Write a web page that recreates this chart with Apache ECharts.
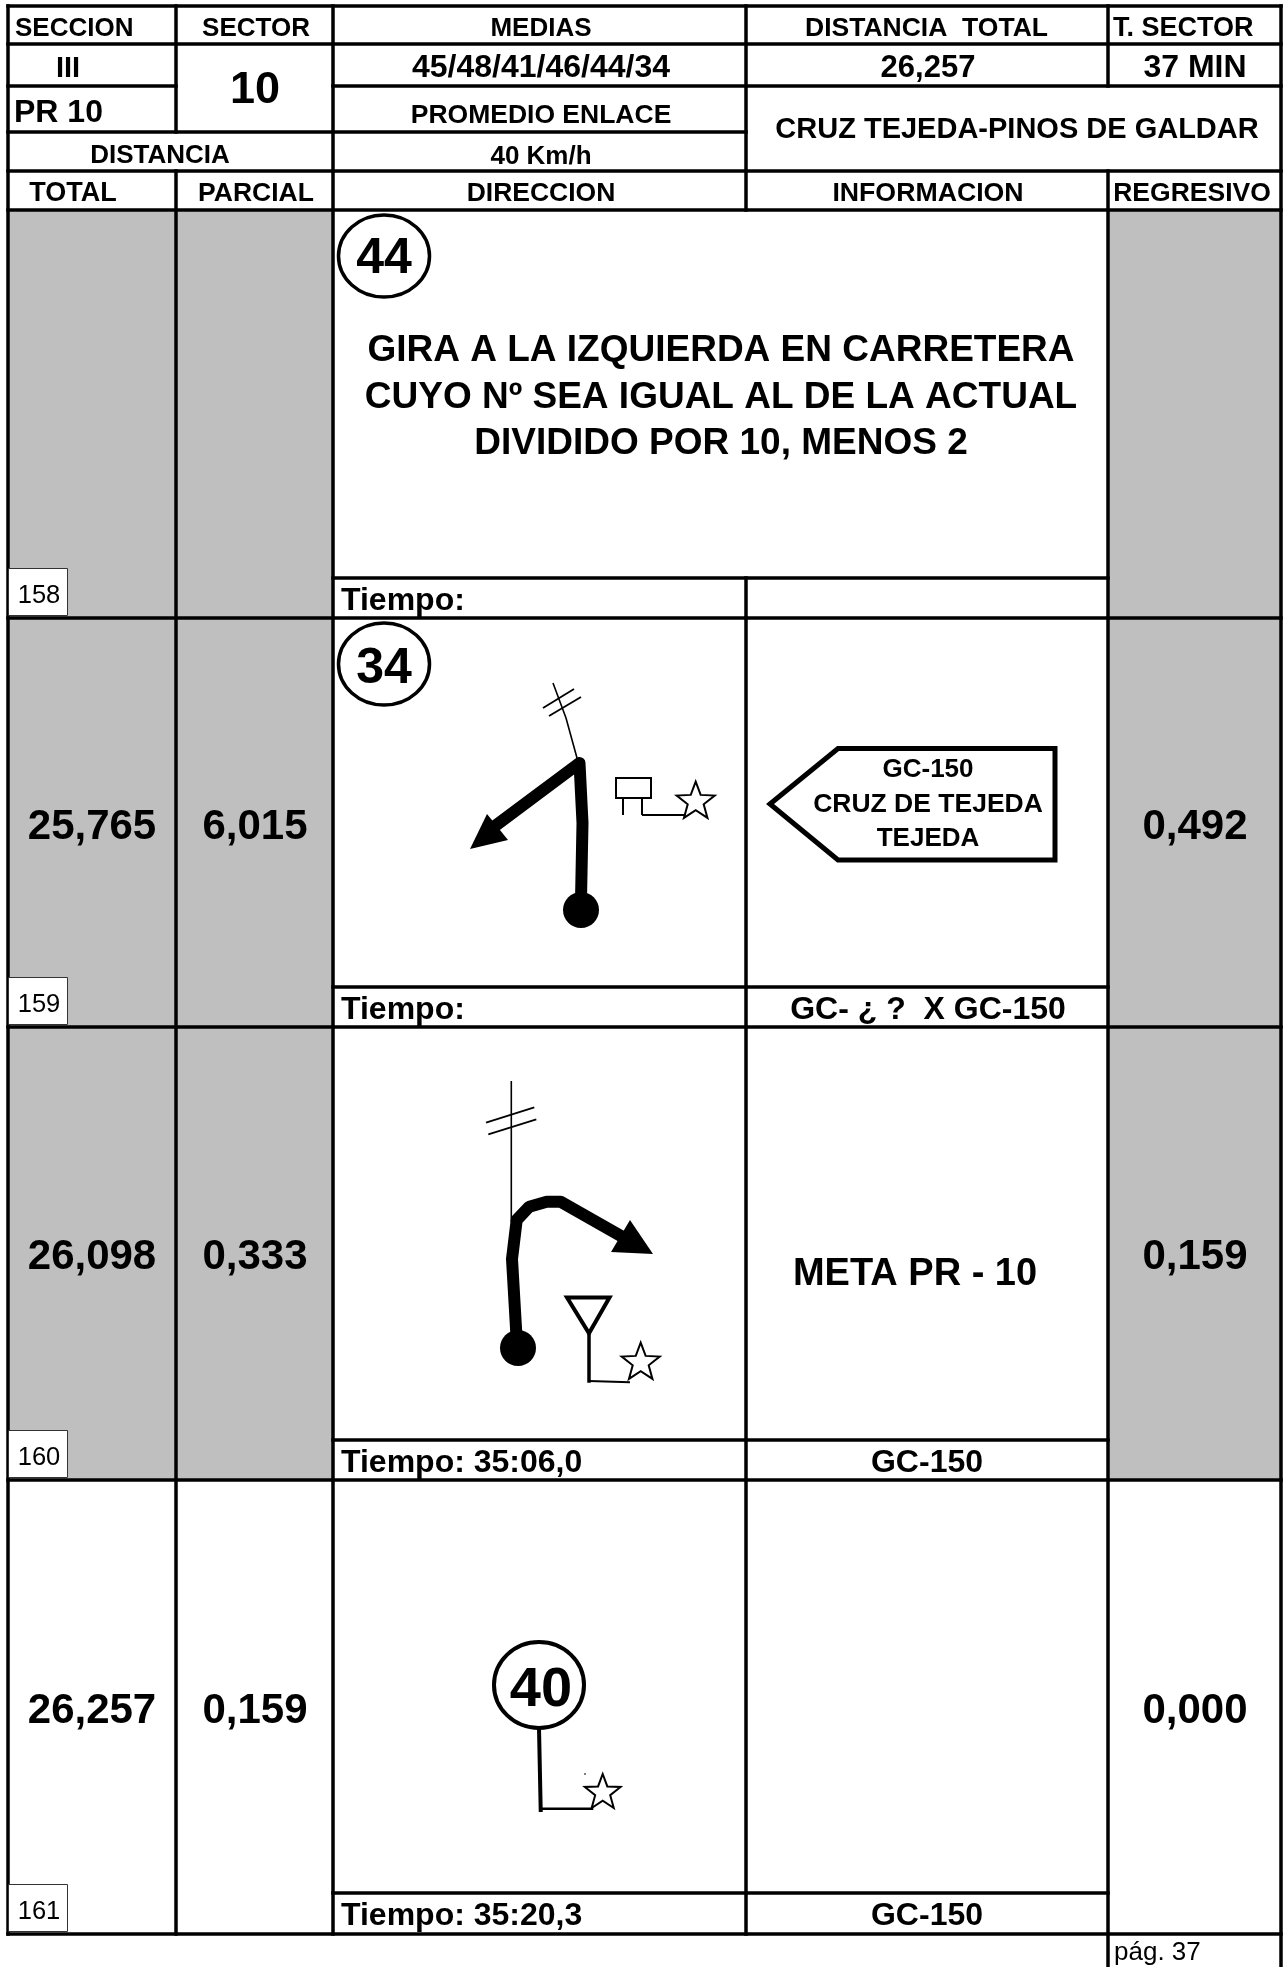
<!DOCTYPE html>
<html><head><meta charset="utf-8">
<style>html,body{margin:0;padding:0;background:#fff}#c{width:1283px;height:1967px}</style>
<script src="https://cdn.jsdelivr.net/npm/echarts@6/dist/echarts.min.js"></script>
</head><body><div id="c"></div>
<script>
// ---- content ----
const waypoints = [158, 159, 160, 161];
const totals = [null, 25.765, 26.098, 26.257];
const partials = [null, 6.015, 0.333, 0.159];
const regressive = [null, 0.492, 0.159, 0.000];
const times = ['Tiempo:', 'Tiempo:', 'Tiempo: 35:06,0', 'Tiempo: 35:20,3'];
const roads = ['', 'GC- ¿ ?  X GC-150', 'GC-150', 'GC-150'];
const instruction = ['GIRA A LA IZQUIERDA EN CARRETERA', 'CUYO Nº SEA IGUAL AL DE LA ACTUAL', 'DIVIDIDO POR 10, MENOS 2'];
const signLines = ['GC-150', 'CRUZ DE TEJEDA', 'TEJEDA'];
const columnTitles = ['TOTAL', 'PARCIAL', 'DIRECCION', 'INFORMACION', 'REGRESIVO'];
const speedBadges = [44, 34, 40];
const finishLabel = 'META PR - 10';
const pageLabel = 'pág. 37';

// ---- layout, in axis units ----
const X = [8, 176, 333, 746, 1108, 1281];
const H = [6, 44, 86, 132, 171, 210];
const R = [210, 618, 1027, 1480, 1934];
const T = [578, 987, 1440, 1893];
const BLACK = '#000', GREY = '#bfbfbf';
const F = 'Liberation Sans, Arial, sans-serif';
const fmt = v => v == null ? '' : v.toFixed(3).replace('.', ',');

const items = [];
const rect = (a, b, c, d, fill) => items.push({k: 'rect', a, b, c, d, fill});
const line = (pts, w) => items.push({k: 'line', pts, w});
const poly = (pts, fill, w) => items.push({k: 'poly', pts, fill, w});
const ell = (x, y, rx, ry, fill, w) => items.push({k: 'ell', x, y, rx, ry, fill, w});
const txt = (s, x, y, size, align, weight) => items.push({k: 'txt', s, x, y: y + 2.5, size, align: align || 'center', weight: weight || 'bold'});
const star = (cx, cy, r) => {
  const p = [];
  for (let i = 0; i < 10; i++) {
    const a = -Math.PI / 2 + i * Math.PI / 5, q = i % 2 ? r * 0.42 : r;
    p.push([cx + q * Math.cos(a), cy + q * Math.sin(a)]);
  }
  poly(p, '#fff', 2);
};

// grey cells
for (let i = 0; i < 3; i++) {
  rect(X[0], R[i], X[2], R[i + 1], GREY);
  rect(X[4], R[i], X[5], R[i + 1], GREY);
}
// rules
const LW = 3.5;
[[X[0], X[5], H[0]], [X[0], X[5], H[1]], [X[0], X[1], H[2]], [X[2], X[5], H[2]], [X[0], X[3], H[3]],
 [X[0], X[5], H[4]], [X[0], X[5], H[5]], [X[0], X[5], R[1]], [X[0], X[5], R[2]], [X[0], X[5], R[3]], [X[0], X[5], R[4]]]
  .forEach(r => line([[r[0], r[2]], [r[1], r[2]]], LW));
T.forEach(y => line([[X[2], y], [X[4], y]], LW));
line([[X[0], H[0]], [X[0], R[4]]], LW);
line([[X[5], H[0]], [X[5], 1967]], LW);
line([[X[1], H[0]], [X[1], H[3]]], LW);
line([[X[1], H[4]], [X[1], R[4]]], LW);
line([[X[2], H[0]], [X[2], R[4]]], LW);
line([[X[3], H[0]], [X[3], H[5]]], LW);
line([[X[3], T[0]], [X[3], R[1]]], LW);
line([[X[3], R[1]], [X[3], R[4]]], LW);
line([[X[4], H[0]], [X[4], H[2]]], LW);
line([[X[4], H[4]], [X[4], 1967]], LW);

// header text
txt('SECCION', 15, 26, 26, 'left');
txt('SECTOR', 256, 26, 26);
txt('MEDIAS', 541, 26, 26);
txt('DISTANCIA  TOTAL', 926.5, 26, 26.5);
txt('T. SECTOR', 1113, 26, 27, 'left');
txt('III', 68, 66, 29);
txt('10', 255, 88, 45);
txt('45/48/41/46/44/34', 541, 66, 32);
txt('26,257', 928, 66, 31);
txt('37 MIN', 1195, 66, 32);
txt('PR 10', 14, 111, 32, 'left');
txt('PROMEDIO ENLACE', 541, 113, 26.5);
txt('CRUZ TEJEDA-PINOS DE GALDAR', 1017, 127, 29);
txt('DISTANCIA', 160, 153, 26);
txt('40 Km/h', 541, 154, 26);
const colX = [73, 256, 541, 928, 1192];
const colSize = [27, 26.5, 26.5, 26.7, 26.5];
columnTitles.forEach((t, i) => txt(t, colX[i], 191, colSize[i]));

// rows
waypoints.forEach((n, i) => {
  rect(X[0] + 1, R[i + 1] - 49, 68, R[i + 1] - 2, '#fff');
  items.push({k: 'box', a: X[0] + 1, b: R[i + 1] - 49, c: 68, d: R[i + 1] - 2});
  txt(String(n), 39, R[i + 1] - 25, 25.5, 'center', 'normal');
  if (totals[i] != null) {
    const yy = i === 1 ? 824.5 : i === 2 ? 1254.5 : 1708.5;
    txt(fmt(totals[i]), 92, yy, 42);
    txt(fmt(partials[i]), 255, yy, 42);
    txt(fmt(regressive[i]), 1195, yy, 42);
  }
  txt(times[i], 341, (T[i] + R[i + 1]) / 2 + 0.5, 32, 'left');
  if (roads[i]) txt(roads[i], i === 1 ? 928 : 927, (T[i] + R[i + 1]) / 2 + 0.5, 32);
});
instruction.forEach((s, i) => txt(s, 721, [348, 395, 441][i], 37));

// speed badges
ell(384, 256, 45.5, 41, 'none', 3.5); txt(String(speedBadges[0]), 384, 256.5, 50);
ell(384, 664, 45.5, 41, 'none', 3.5); txt(String(speedBadges[1]), 384, 666.5, 50);

// diagram 159
line([[553, 683], [566, 718], [577, 758]], 1.6);
line([[543, 708], [574, 689]], 1.8);
line([[549, 716], [581, 697]], 1.8);
line([[581, 900], [582.5, 823], [579.5, 763], [495, 826]], 12);
poly([[470, 849], [487, 814], [508, 840]], BLACK, 0);
ell(581, 910, 18, 18, BLACK, 0);
poly([[616, 778], [651, 778], [651, 798], [616, 798]], '#fff', 2);
line([[623, 798], [623, 815]], 2);
line([[642, 798], [642, 815]], 2);
line([[642, 815], [685, 815]], 2);
star(695.7, 801.7, 20);

// sign
poly([[770, 804], [838, 748.5], [1055, 748.5], [1055, 860], [838, 860]], '#fff', 5);
signLines.forEach((s, i) => txt(s, 928, [767.5, 802, 836.5][i], i === 1 ? 26.5 : 26));

// diagram 160
line([[511.3, 1081], [511.3, 1222]], 1.6);
line([[486, 1122.7], [534.3, 1107.3]], 1.8);
line([[488.3, 1134.3], [536.3, 1119.3]], 1.8);
line([[516.7, 1340], [512, 1259], [516.7, 1220], [529.3, 1206.7], [546.7, 1201.7], [560.7, 1201.7], [625, 1238.3]], 12);
poly([[653, 1254], [630, 1220], [611, 1252]], BLACK, 0);
ell(518, 1348, 18, 18, BLACK, 0);
poly([[567, 1297.5], [609.5, 1297.5], [589, 1333.3]], '#fff', 4);
line([[589, 1333], [589, 1381]], 3.5);
line([[589, 1381], [630, 1382.3]], 2);
star(640.7, 1362.7, 20);
txt(finishLabel, 915, 1272.5, 38);

// diagram 161
ell(539, 1685, 45, 43, 'none', 4); txt(String(speedBadges[2]), 541, 1688, 56);
line([[539, 1728], [540.7, 1810]], 4);
line([[540.7, 1808.7], [593.3, 1808.7]], 2.5);
star(602.7, 1792.8, 18.8);
line([[584, 1774], [586, 1774]], 1);

txt(pageLabel, 1114, 1950, 26, 'left', 'normal');

function renderItem(params, api) {
  const it = items[params.dataIndex];
  const c = p => api.coord(p);
  if (it.k === 'rect') {
    const p = c([it.a, it.b]), q = c([it.c, it.d]);
    return {type: 'rect', shape: {x: p[0], y: p[1], width: q[0] - p[0], height: q[1] - p[1]}, style: {fill: it.fill}};
  }
  if (it.k === 'box') {
    const p = c([it.a, it.b]), q = c([it.c, it.d]);
    return {type: 'rect', shape: {x: p[0] - .5, y: p[1] - .5, width: q[0] - p[0], height: q[1] - p[1]}, style: {fill: 'none', stroke: '#333', lineWidth: 1}};
  }
  if (it.k === 'line') {
    return {type: 'polyline', shape: {points: it.pts.map(c)}, style: {fill: 'none', stroke: BLACK, lineWidth: it.w, lineJoin: it.pts.length > 2 ? 'round' : 'miter', lineCap: it.w > 3 ? 'square' : 'butt'}};
  }
  if (it.k === 'poly') {
    return {type: 'polygon', shape: {points: it.pts.map(c)}, style: {fill: it.fill, stroke: it.w ? BLACK : 'none', lineWidth: it.w, lineJoin: 'miter'}};
  }
  if (it.k === 'ell') {
    const p = c([it.x, it.y]);
    return {type: 'ellipse', shape: {cx: p[0], cy: p[1], rx: it.rx, ry: it.ry}, style: {fill: it.fill, stroke: it.w ? BLACK : 'none', lineWidth: it.w}};
  }
  const p = c([it.x, it.y]);
  return {type: 'text', style: {text: it.s, x: p[0], y: p[1], fill: BLACK, font: it.weight + ' ' + it.size + 'px ' + F, align: it.align, verticalAlign: 'middle'}};
}

const chart = echarts.init(document.getElementById('c'), null, {renderer: 'canvas', width: 1283, height: 1967});
chart.setOption({
  animation: false,
  backgroundColor: '#fff',
  grid: {left: 0, right: 0, top: 0, bottom: 0},
  xAxis: {type: 'value', min: 0, max: 1283, show: false},
  yAxis: {type: 'value', min: 0, max: 1967, inverse: true, show: false},
  tooltip: {show: false},
  series: [{type: 'custom', coordinateSystem: 'cartesian2d', clip: false, silent: true, renderItem,
    data: items.map((_, i) => [i, 0])}]
});
</script></body></html>
